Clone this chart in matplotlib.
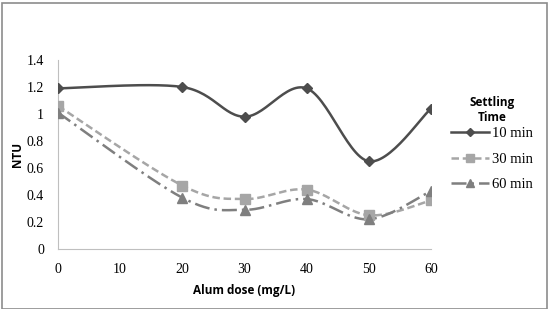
import numpy as np
import matplotlib.pyplot as plt

dose = [0, 20, 30, 40, 50, 60]
ntu_10 = [1.19, 1.20, 0.98, 1.19, 0.65, 1.04]
ntu_30 = [1.06, 0.47, 0.37, 0.44, 0.25, 0.36]
ntu_60 = [1.01, 0.38, 0.29, 0.37, 0.22, 0.43]
labels = ["10 min", "30 min", "60 min"]
x_ticks = [0, 10, 20, 30, 40, 50, 60]
y_ticks = [0, 0.2, 0.4, 0.6, 0.8, 1, 1.2, 1.4]
y_tick_labels = ["0", "0.2", "0.4", "0.6", "0.8", "1", "1.2", "1.4"]


def smooth(xs, ys, n=30):
    # Excel-like smoothed line: cubic Bezier through the points
    p = np.column_stack([xs, ys]).astype(float)
    pts = np.vstack([p[0], p, p[-1]])
    out = []
    t = np.linspace(0, 1, n)[:, None]
    for i in range(1, len(pts) - 2):
        p0, p1, p2, p3 = pts[i - 1], pts[i], pts[i + 1], pts[i + 2]
        c1 = p1 + (p2 - p0) / 6
        c2 = p2 - (p3 - p1) / 6
        seg = ((1 - t) ** 3) * p1 + 3 * ((1 - t) ** 2) * t * c1 + 3 * (1 - t) * t ** 2 * c2 + t ** 3 * p2
        out.append(seg)
    seg = np.vstack(out)
    return seg[:, 0], seg[:, 1]


fig = plt.figure(figsize=(5.49, 3.09), dpi=100)
ax = fig.add_axes([58 / 549, 1 - 249 / 309, (431 - 58) / 549, (249 - 60) / 309])

styles = [
    dict(color="#4d4d4d", ls="-", marker="D", ms=5, lw=1.8),
    dict(color="#a6a6a6", ls=(0, (3, 1.5)), marker="s", ms=7, lw=1.8),
    dict(color="#7f7f7f", ls=(0, (6, 2, 1, 2)), marker="^", ms=7, lw=1.8),
]

handles = []
for ys, lab, st in zip([ntu_10, ntu_30, ntu_60], labels, styles):
    sx, sy = smooth(dose, ys)
    ax.plot(sx, sy, color=st["color"], ls=st["ls"], lw=st["lw"], zorder=2)
    ax.plot(dose, ys, ls="none", marker=st["marker"], ms=st["ms"],
            color=st["color"], zorder=3)
    h, = ax.plot([], [], color=st["color"], ls=st["ls"], lw=st["lw"],
                 marker=st["marker"], ms=st["ms"] - 1)
    handles.append(h)

ax.set_xlim(0, 60)
ax.set_ylim(0, 1.4)
ax.set_xticks(x_ticks)
ax.set_yticks(y_ticks)
ax.set_yticklabels(y_tick_labels)
ax.tick_params(length=0, labelsize=10)
ax.tick_params(axis="x", pad=10)
ax.tick_params(axis="y", pad=10)
for lab in ax.get_xticklabels() + ax.get_yticklabels():
    lab.set_family("Liberation Serif")
ax.spines["top"].set_visible(False)
ax.spines["right"].set_visible(False)
ax.spines["left"].set_color("#bfbfbf")
ax.spines["bottom"].set_color("#bfbfbf")

ax.set_xlabel("Alum dose (mg/L)", fontsize=8.5, fontweight="bold",
              family="Open Sans", labelpad=6)
ax.set_ylabel("NTU", fontsize=8.5, fontweight="bold", family="Open Sans",
              labelpad=2)

leg = fig.legend(handles, labels, loc="upper center", bbox_to_anchor=(492 / 549, 1 - 83 / 309),
                 frameon=False, title="Settling\nTime", handlelength=2.6,
                 handletextpad=0.2, labelspacing=0.85, alignment="center",
                 prop={"family": "Liberation Serif", "size": 10.5},
                 title_fontproperties={"family": "Open Sans", "weight": "bold", "size": 8.5})
leg.get_title().set_multialignment("center")
leg._legend_box.sep = 2

fig.patches.append(plt.Rectangle((2 / 549, 0), 545 / 549, 306 / 309,
                                 transform=fig.transFigure, fill=False,
                                 edgecolor="#8c8c8c", lw=1.2))

fig.savefig("out.png", dpi=100)
